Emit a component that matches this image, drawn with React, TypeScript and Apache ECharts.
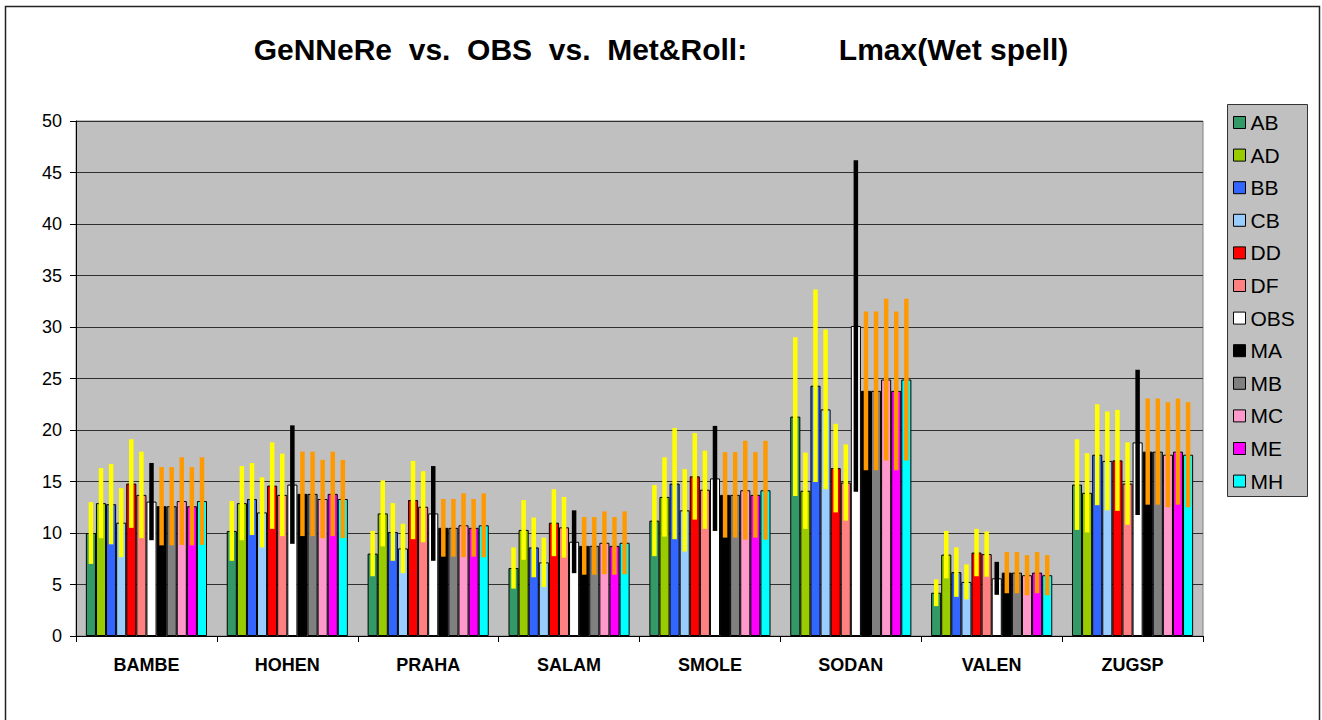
import React, { useEffect, useRef } from "react";
import * as echarts from "echarts";

// Stations on the category axis
const categories = ["BAMBE", "HOHEN", "PRAHA", "SALAM", "SMOLE", "SODAN", "VALEN", "ZUGSP"];

// Mean Lmax of wet spells per station and model, with half-width of the spread
const meanAB = [10.0, 10.2, 8.0, 6.6, 11.2, 21.3, 4.2, 14.7];
const errAB = [3.0, 2.9, 2.2, 2.0, 3.45, 7.7, 1.3, 4.4];
const meanAD = [12.9, 12.9, 11.9, 10.3, 13.5, 14.1, 7.9, 13.9];
const errAD = [3.4, 3.6, 3.2, 2.9, 3.85, 3.7, 2.3, 3.85];
const meanBB = [12.8, 13.3, 10.1, 8.6, 14.8, 24.3, 6.2, 17.6];
const errBB = [3.9, 3.5, 2.8, 2.9, 5.4, 9.35, 2.4, 4.9];
const meanCB = [11.0, 12.0, 8.5, 7.15, 12.2, 22.0, 5.25, 17.0];
const errCB = [3.35, 3.4, 2.4, 2.4, 4.0, 7.75, 1.7, 4.8];
const meanDD = [14.8, 14.6, 13.2, 11.0, 15.5, 16.3, 8.1, 17.05];
const errDD = [4.3, 4.2, 3.8, 3.25, 4.2, 4.3, 2.3, 4.9];
const meanDF = [13.7, 13.7, 12.55, 10.55, 14.2, 14.9, 7.95, 14.8];
const errDF = [4.2, 4.0, 3.45, 2.95, 3.8, 3.7, 2.2, 4.0];
const meanOBS = [13.05, 14.7, 11.9, 9.15, 15.3, 30.1, 5.6, 18.8];
const errOBS = [3.75, 5.75, 4.6, 3.05, 5.1, 16.1, 1.6, 7.05];
const meanMA = [12.6, 13.8, 10.5, 8.75, 13.7, 23.8, 6.15, 17.9];
const errMA = [3.8, 4.1, 2.8, 2.8, 4.15, 7.7, 2.0, 5.15];
const meanMB = [12.6, 13.8, 10.5, 8.75, 13.7, 23.8, 6.15, 17.9];
const errMB = [3.8, 4.1, 2.8, 2.8, 4.15, 7.7, 2.0, 5.15];
const meanMC = [13.1, 13.3, 10.75, 9.05, 14.15, 24.9, 5.9, 17.6];
const errMC = [4.25, 3.8, 3.1, 3.05, 4.8, 7.85, 1.95, 5.1];
const meanME = [12.6, 13.8, 10.5, 8.75, 13.7, 23.8, 6.15, 17.9];
const errME = [3.8, 4.1, 2.8, 2.8, 4.15, 7.7, 2.0, 5.15];
const meanMH = [13.1, 13.3, 10.75, 9.05, 14.15, 24.9, 5.9, 17.6];
const errMH = [4.25, 3.8, 3.1, 3.05, 4.8, 7.85, 1.95, 5.1];

const seriesNames = ["AB", "AD", "BB", "CB", "DD", "DF", "OBS", "MA", "MB", "MC", "ME", "MH"];
const seriesMeans = [meanAB, meanAD, meanBB, meanCB, meanDD, meanDF, meanOBS, meanMA, meanMB, meanMC, meanME, meanMH];
const seriesErrs = [errAB, errAD, errBB, errCB, errDD, errDF, errOBS, errMA, errMB, errMC, errME, errMH];

const barColors = [
  "#339966", "#99cc00", "#3366ff", "#99ccff", "#ff0000", "#ff8080",
  "#ffffff", "#000000", "#808080", "#ff99cc", "#ff00ff", "#00ffff",
];
const errColors = [
  "#ffff00", "#ffff00", "#ffff00", "#ffff00", "#ffff00", "#ffff00",
  "#000000", "#ff9900", "#ff9900", "#ff9900", "#ff9900", "#ff9900",
];

const CATEGORY_GAP = 0.14;
const FONT = "'Liberation Sans', Arial, sans-serif";
const NB = "\u00a0";

export default function App() {
  const ref = useRef<HTMLDivElement>(null);

  useEffect(() => {
    document.body.style.margin = "0";
    if (!ref.current) return;
    const chart = echarts.init(ref.current, undefined, { renderer: "svg" });

    const n = seriesNames.length;
    const barSeries = seriesNames.map((name, i) => ({
      name,
      type: "bar",
      data: seriesMeans[i],
      barGap: "0%",
      barCategoryGap: `${CATEGORY_GAP * 100}%`,
      itemStyle: { color: barColors[i], borderColor: "#000", borderWidth: 1 },
      z: 2,
    }));

    // one error-bar item per series and station: [category, series, low, high]
    const errData: number[][] = [];
    seriesNames.forEach((_, s) => {
      categories.forEach((_, c) => {
        const m = seriesMeans[s][c];
        const e = seriesErrs[s][c];
        errData.push([c, s, m - e, m + e]);
      });
    });

    const errSeries = {
      type: "custom",
      name: "spread",
      data: errData,
      encode: { x: 0, y: [2, 3] },
      z: 5,
      silent: true,
      renderItem: (_params: any, api: any) => {
        const c = api.value(0);
        const s = api.value(1);
        const top = api.coord([c, api.value(3)]);
        const bottom = api.coord([c, api.value(2)]);
        const band = api.size([1, 0])[0];
        const barW = (band * (1 - CATEGORY_GAP)) / n;
        const cx = top[0] + (s - (n - 1) / 2) * barW;
        const w = 4.5;
        return {
          type: "rect",
          shape: { x: cx - w / 2, y: top[1], width: w, height: bottom[1] - top[1] },
          style: { fill: errColors[s] },
        };
      },
    };

    chart.setOption({
      animation: false,
      backgroundColor: "#ffffff",
      textStyle: { fontFamily: FONT },
      title: {
        text:
          `GeNNeRe${NB}${NB}vs.${NB}${NB}OBS${NB}${NB}vs.${NB}${NB}Met&Roll:` +
          NB.repeat(11) +
          "Lmax(Wet spell)",
        left: "center",
        top: 29,
        textStyle: { fontFamily: FONT, fontSize: 30, fontWeight: "bold", color: "#000" },
      },
      graphic: [
        {
          type: "rect",
          shape: { x: 5.5, y: 6.5, width: 1314, height: 730 },
          style: { fill: "none", stroke: "#222", lineWidth: 1.5 },
          silent: true,
        },
        {
          type: "rect",
          shape: { x: 1227.5, y: 104.5, width: 80, height: 392 },
          style: { fill: "#c0c0c0", stroke: "#333", lineWidth: 1 },
          silent: true,
        },
      ],
      legend: {
        data: seriesNames,
        orient: "vertical",
        left: 1233,
        top: 112,
        itemWidth: 12,
        itemHeight: 12,
        itemGap: 11.6,
        padding: 0,
        icon: "rect",
        textStyle: { fontFamily: FONT, fontSize: 21, color: "#000" },
        itemStyle: { borderColor: "#000", borderWidth: 1 },
        selectedMode: false,
      },
      grid: {
        left: 76,
        top: 121,
        right: 119,
        bottom: 84,
        show: true,
        backgroundColor: "#c0c0c0",
        borderColor: "#808080",
        borderWidth: 1,
      },
      xAxis: {
        type: "category",
        data: categories,
        axisLine: { lineStyle: { color: "#000", width: 1 } },
        axisTick: { show: true, length: 6, lineStyle: { color: "#000" } },
        axisLabel: { fontFamily: FONT, fontSize: 18, fontWeight: "bold", color: "#000", margin: 20 },
      },
      yAxis: {
        type: "value",
        min: 0,
        max: 50,
        interval: 5,
        axisLine: { show: true, lineStyle: { color: "#000", width: 1 } },
        axisTick: { show: true, length: 6, lineStyle: { color: "#000" } },
        axisLabel: { fontFamily: FONT, fontSize: 18, color: "#000", margin: 14 },
        splitLine: { show: true, lineStyle: { color: "#303030", width: 1 } },
      },
      series: [...barSeries, errSeries],
    });

    return () => chart.dispose();
  }, []);

  return <div ref={ref} style={{ width: 1322, height: 720 }} />;
}
